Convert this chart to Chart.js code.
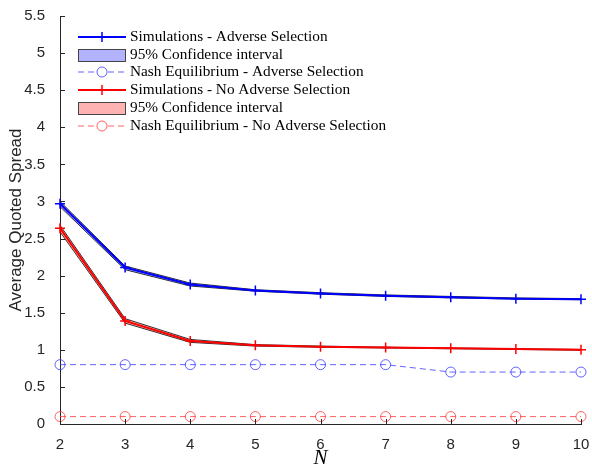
<!DOCTYPE html>
<html>
<head>
<meta charset="utf-8">
<script src="https://cdn.jsdelivr.net/npm/chart.js@4/dist/chart.umd.min.js"></script>
<style>
  html, body { margin: 0; padding: 0; background: #fff; }
  #wrap { width: 592px; height: 471px; }
</style>
</head>
<body>
<div id="wrap"><canvas id="c" width="592" height="471"></canvas></div>
<script>
// values
const nValues = [2, 3, 4, 5, 6, 7, 8, 9, 10];
const simAS = [2.97, 2.11, 1.88, 1.80, 1.76, 1.73, 1.71, 1.69, 1.68];
const ciASLow = [2.93, 2.08, 1.86, 1.79, 1.75, 1.72, 1.70, 1.685, 1.675];
const ciASHigh = [3.00, 2.13, 1.90, 1.81, 1.77, 1.74, 1.72, 1.70, 1.69];
const nashAS = [0.8, 0.8, 0.8, 0.8, 0.8, 0.8, 0.7, 0.7, 0.7];
const simNoAS = [2.64, 1.39, 1.12, 1.06, 1.04, 1.03, 1.02, 1.01, 1.00];
const ciNoASLow = [2.59, 1.36, 1.10, 1.05, 1.035, 1.025, 1.015, 1.005, 0.995];
const ciNoASHigh = [2.68, 1.42, 1.14, 1.07, 1.05, 1.035, 1.025, 1.015, 1.005];
const nashNoAS = [0.1, 0.1, 0.1, 0.1, 0.1, 0.1, 0.1, 0.1, 0.1];

const yTicks = [0, 0.5, 1, 1.5, 2, 2.5, 3, 3.5, 4, 4.5, 5, 5.5];

const pts = (ys) => nValues.map((n, i) => ({ x: n, y: ys[i] }));

const BLUE = 'rgb(0,0,255)';
const RED = 'rgb(255,0,0)';
const NASH_BLUE = 'rgba(60,60,255,0.8)';
const NASH_RED = 'rgba(255,60,60,0.8)';
const AXIS = '#262626';
const SANS = '"Liberation Sans", Arial, sans-serif';
const SERIF = '"Liberation Serif", "Times New Roman", serif';

// legend entries drawn by hand (MATLAB style)
const legendItems = [
  { kind: 'line', color: BLUE, text: 'Simulations - Adverse Selection' },
  { kind: 'box', fill: 'rgba(0,0,255,0.3)', text: '95% Confidence interval' },
  { kind: 'dash', color: NASH_BLUE, text: 'Nash Equilibrium - Adverse Selection' },
  { kind: 'line', color: RED, text: 'Simulations - No Adverse Selection' },
  { kind: 'box', fill: 'rgba(255,0,0,0.3)', text: '95% Confidence interval' },
  { kind: 'dash', color: NASH_RED, text: 'Nash Equilibrium - No Adverse Selection' }
];

const matlabDecor = {
  id: 'matlabDecor',
  afterDraw(chart) {
    const ctx = chart.ctx;
    const a = chart.chartArea;
    const xs = chart.scales.x, ys = chart.scales.y;
    ctx.save();
    // inward ticks
    ctx.strokeStyle = AXIS;
    ctx.lineWidth = 1;
    ctx.beginPath();
    yTicks.forEach(v => {
      const py = Math.round(ys.getPixelForValue(v)) + 0.5;
      ctx.moveTo(a.left, py); ctx.lineTo(a.left + 5, py);
    });
    nValues.forEach(v => {
      const px = Math.round(xs.getPixelForValue(v)) + 0.5;
      ctx.moveTo(px, a.bottom); ctx.lineTo(px, a.bottom - 5);
    });
    ctx.stroke();

    // legend
    const x0 = 78, x1 = 126, tx = 130;
    const rows = [37, 55, 72, 90, 108, 126];
    ctx.font = '15.3px ' + SERIF;
    ctx.textBaseline = 'middle';
    legendItems.forEach((it, i) => {
      const y = rows[i];
      if (it.kind === 'box') {
        ctx.fillStyle = it.fill;
        ctx.fillRect(x0, y - 6, x1 - x0, 13);
        ctx.strokeStyle = '#444';
        ctx.lineWidth = 1;
        ctx.strokeRect(x0 + 0.5, y - 5.5, x1 - x0 - 1, 12);
      } else {
        ctx.strokeStyle = it.color;
        ctx.lineWidth = it.kind === 'line' ? 2 : 1;
        ctx.setLineDash(it.kind === 'dash' ? [6, 4] : []);
        ctx.beginPath();
        ctx.moveTo(x0, y); ctx.lineTo(x1, y);
        ctx.stroke();
        ctx.setLineDash([]);
        const cx = (x0 + x1) / 2;
        ctx.beginPath();
        if (it.kind === 'line') {
          ctx.lineWidth = 1.5;
          ctx.moveTo(cx, y - 5); ctx.lineTo(cx, y + 5);
          ctx.moveTo(cx - 5, y); ctx.lineTo(cx + 5, y);
        } else {
          ctx.lineWidth = 1;
          ctx.fillStyle = '#fff';
          ctx.arc(cx, y, 5, 0, Math.PI * 2);
          ctx.fill();
        }
        ctx.stroke();
      }
      ctx.fillStyle = '#000';
      ctx.fillText(it.text, tx, y);
    });
    ctx.restore();
  }
};

new Chart(document.getElementById('c'), {
  type: 'line',
  plugins: [matlabDecor],
  data: {
    datasets: [
      // confidence band, adverse selection
      { label: 'ciASLow', data: pts(ciASLow), borderColor: 'rgba(0,0,0,0.8)', borderWidth: 1,
        pointRadius: 0, fill: false, order: 1 },
      { label: '95% Confidence interval', data: pts(ciASHigh), borderColor: 'rgba(0,0,0,0.8)', borderWidth: 1,
        backgroundColor: 'rgba(0,0,255,0.3)', pointRadius: 0, fill: '-1', order: 1 },
      // confidence band, no adverse selection
      { label: 'ciNoASLow', data: pts(ciNoASLow), borderColor: 'rgba(0,0,0,0.8)', borderWidth: 1,
        pointRadius: 0, fill: false, order: 1 },
      { label: '95% Confidence interval', data: pts(ciNoASHigh), borderColor: 'rgba(0,0,0,0.8)', borderWidth: 1,
        backgroundColor: 'rgba(255,0,0,0.3)', pointRadius: 0, fill: '-1', order: 1 },
      { label: 'Simulations - Adverse Selection', data: pts(simAS), borderColor: BLUE, borderWidth: 2,
        pointStyle: 'cross', pointRadius: 5, pointBorderWidth: 1.5, pointBorderColor: BLUE, fill: false, order: 0 },
      { label: 'Simulations - No Adverse Selection', data: pts(simNoAS), borderColor: RED, borderWidth: 2,
        pointStyle: 'cross', pointRadius: 5, pointBorderWidth: 1.5, pointBorderColor: RED, fill: false, order: 0 },
      { label: 'Nash Equilibrium - Adverse Selection', data: pts(nashAS), borderColor: NASH_BLUE, borderWidth: 1,
        borderDash: [6, 4], pointStyle: 'circle', pointRadius: 5, pointBorderColor: NASH_BLUE,
        pointBackgroundColor: 'rgba(0,0,0,0)', fill: false, order: 2 },
      { label: 'Nash Equilibrium - No Adverse Selection', data: pts(nashNoAS), borderColor: NASH_RED, borderWidth: 1,
        borderDash: [6, 4], pointStyle: 'circle', pointRadius: 5, pointBorderColor: NASH_RED,
        pointBackgroundColor: 'rgba(0,0,0,0)', fill: false, order: 2 }
    ]
  },
  options: {
    responsive: false,
    animation: false,
    clip: false,
    layout: { padding: { top: 14, right: 11, left: 0, bottom: 0 } },
    plugins: { legend: { display: false }, tooltip: { enabled: false } },
    elements: { line: { tension: 0 } },
    scales: {
      x: {
        type: 'linear', min: 2, max: 10,
        afterBuildTicks: (s) => { s.ticks = nValues.map(v => ({ value: v })); },
        grid: { display: false },
        border: { display: true, color: AXIS, width: 1 },
        ticks: { color: AXIS, font: { family: SANS, size: 15 }, padding: 4, maxRotation: 0 },
        title: { display: true, text: 'N', color: '#000',
          font: { family: SERIF, size: 21, style: 'italic' }, padding: { top: -4, bottom: 0 } },
        afterFit: (s) => { s.height = 47; s.paddingRight = 0; s.paddingLeft = 0; }
      },
      y: {
        min: 0, max: 5.5,
        afterBuildTicks: (s) => { s.ticks = yTicks.map(v => ({ value: v })); },
        grid: { display: false },
        border: { display: true, color: AXIS, width: 1 },
        ticks: { color: AXIS, font: { family: SANS, size: 15 }, padding: 7,
          callback: (v) => String(v) },
        title: { display: true, text: 'Average Quoted Spread', color: AXIS,
          font: { family: SANS, size: 17 }, padding: { top: 6, bottom: 0 } },
        afterFit: (s) => { s.width = 60; }
      }
    }
  }
});
</script>
</body>
</html>
